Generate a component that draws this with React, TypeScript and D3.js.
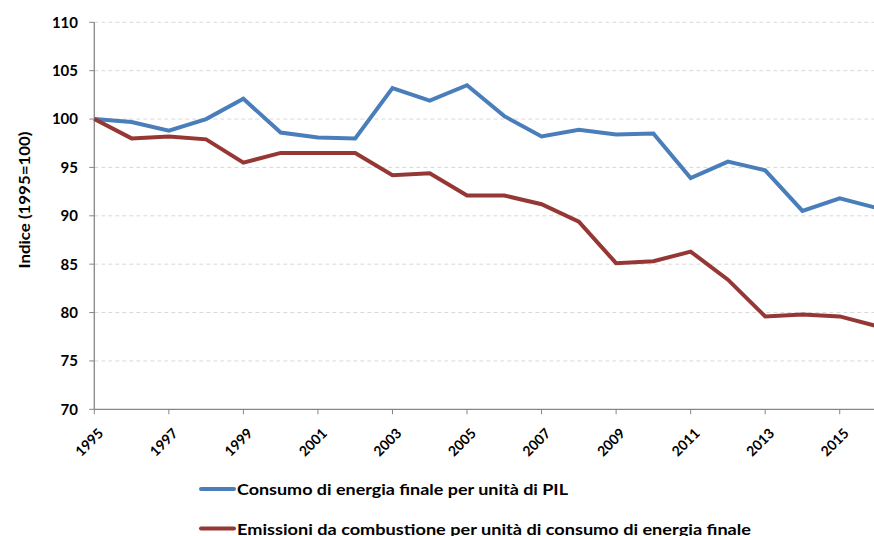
import React from "react";
import * as d3 from "d3";

const years = d3.range(1995, 2017);
const energia = [100, 99.7, 98.8, 100.0, 102.1, 98.6, 98.1, 98.0, 103.2, 101.9, 103.5, 100.3, 98.2, 98.9, 98.4, 98.5, 93.9, 95.6, 94.7, 90.5, 91.8, 90.8];
const emissioni = [100, 98.0, 98.2, 97.9, 95.5, 96.5, 96.5, 96.5, 94.2, 94.4, 92.1, 92.1, 91.2, 89.4, 85.1, 85.3, 86.3, 83.4, 79.6, 79.8, 79.6, 78.6];
const yTicks = [70, 75, 80, 85, 90, 95, 100, 105, 110];
const xTicks = [1995, 1997, 1999, 2001, 2003, 2005, 2007, 2009, 2011, 2013, 2015];
const seriesNames = [
  "Consumo di energia finale per unità di PIL",
  "Emissioni da combustione per unità di consumo di energia finale",
];
const yTitle = "Indice (1995=100)";
const colors = ["#4A7EBB", "#953735"];

const W = 874;
const H = 536;
const FONT = "Lato, 'Open Sans', sans-serif";
const legendTextWidths = [331, 514];

export default function App() {
  const x = d3.scaleLinear().domain([1995, 2016]).range([94.3, 877]);
  const y = d3.scaleLinear().domain([70, 110]).range([409.3, 22.3]);
  const line = d3
    .line<number>()
    .x((_, i) => x(years[i]))
    .y((d) => y(d));
  const series = [energia, emissioni];

  return (
    <svg
      width={W}
      height={H}
      style={{ position: "absolute", left: 0, top: 0, background: "#fff" }}
      fontFamily={FONT}
    >
      <rect width={W} height={H} fill="#fff" />
      {yTicks.map((t) => (
        <g key={t}>
          {t !== 70 && (
            <line
              x1={x(1995)}
              x2={W}
              y1={y(t)}
              y2={y(t)}
              stroke="#d9d9d9"
              strokeDasharray="4,3"
              strokeWidth={1}
            />
          )}
          <line x1={x(1995) - 5} x2={x(1995)} y1={y(t)} y2={y(t)} stroke="#868686" />
          <text
            x={78}
            y={y(t)}
            dy="0.36em"
            textAnchor="end"
            fontSize={15}
            fontWeight="bold"
            fill="#000"
          >
            {t}
          </text>
        </g>
      ))}
      <line x1={x(1995)} x2={x(1995)} y1={y(110)} y2={y(70)} stroke="#868686" strokeWidth={1.3} />
      <line x1={x(1995)} x2={W} y1={y(70)} y2={y(70)} stroke="#868686" strokeWidth={1.3} />
      {xTicks.map((t) => (
        <g key={t}>
          <line x1={x(t)} x2={x(t)} y1={y(70)} y2={y(70) + 5} stroke="#868686" />
          <text
            transform={`translate(${x(t) + 10},${y(70) + 25}) rotate(-45)`}
            textAnchor="end"
            fontSize={14}
            fontWeight="bold"
            fill="#000"
          >
            {t}
          </text>
        </g>
      ))}
      <text
        transform="translate(30,200) rotate(-90)"
        textAnchor="middle"
        fontSize={15.5}
        fontWeight="bold"
        fill="#000"
        textLength={137}
        lengthAdjust="spacingAndGlyphs"
      >
        {yTitle}
      </text>
      {series.map((s, i) => (
        <path
          key={i}
          d={line(s) || ""}
          fill="none"
          stroke={colors[i]}
          strokeWidth={4}
          strokeLinejoin="miter"
        />
      ))}
      {seriesNames.map((n, i) => (
        <g key={n}>
          <line
            x1={201}
            x2={234}
            y1={489 + i * 39.5}
            y2={489 + i * 39.5}
            stroke={colors[i]}
            strokeWidth={4}
            strokeLinecap="round"
          />
          <text
            x={237}
            y={494.5 + i * 40}
            fontSize={16}
            fontWeight="bold"
            fill="#000"
            textLength={legendTextWidths[i]}
            lengthAdjust="spacingAndGlyphs"
          >
            {n}
          </text>
        </g>
      ))}
    </svg>
  );
}
